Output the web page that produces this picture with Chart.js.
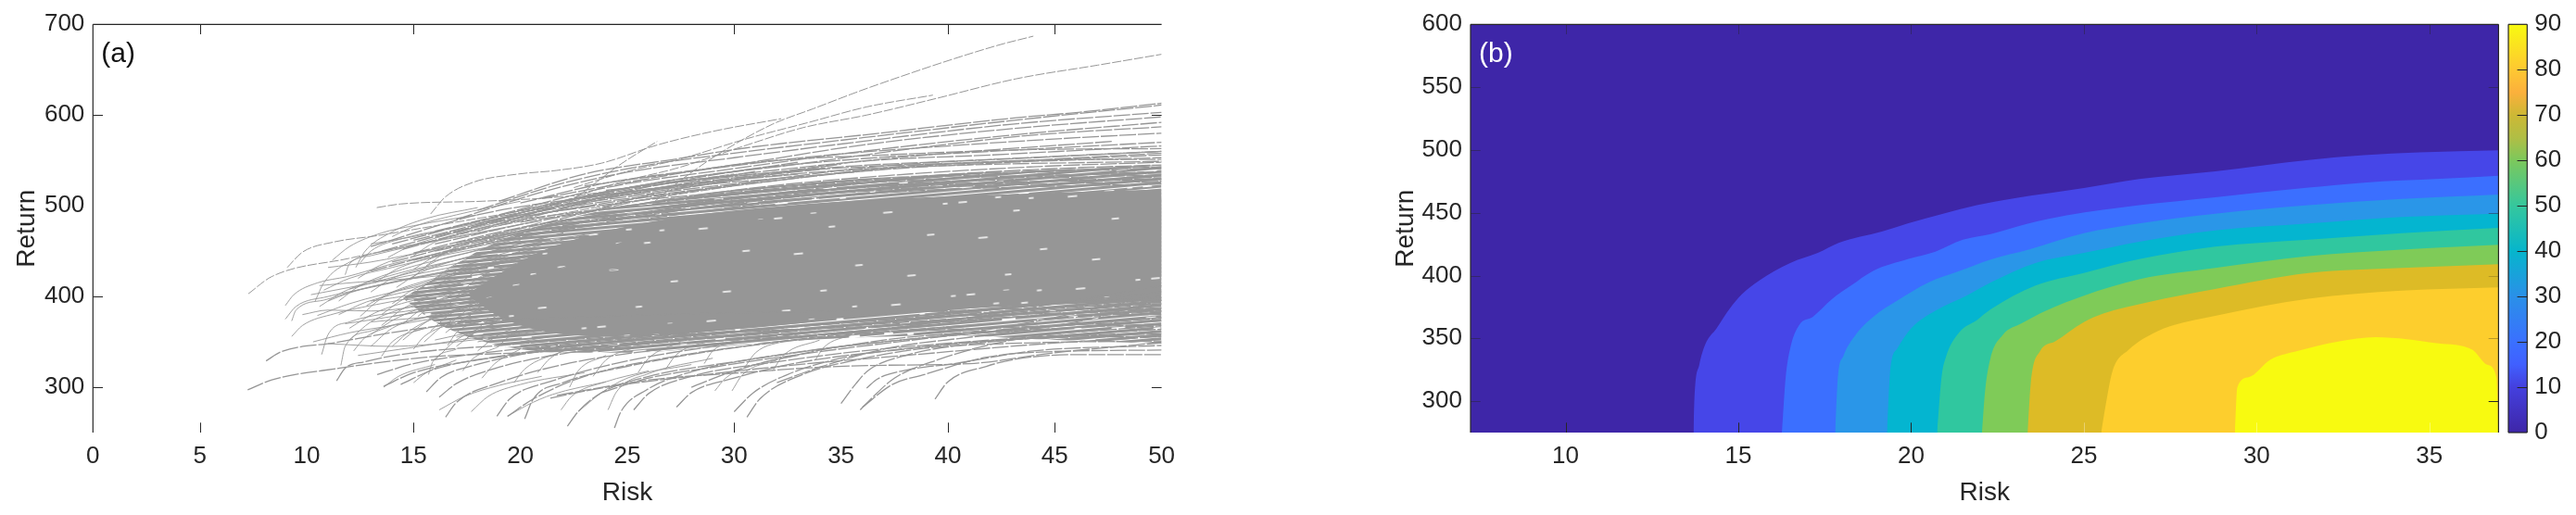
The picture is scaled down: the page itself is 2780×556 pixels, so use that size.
<!DOCTYPE html>
<html><head><meta charset="utf-8">
<script src="https://cdn.jsdelivr.net/npm/chart.js@4/dist/chart.umd.min.js"></script>
<style>
html,body{margin:0;padding:0;background:#fff;width:2780px;height:556px;overflow:hidden}
canvas{position:absolute;top:0}
#ca{left:0}#cb{left:1400px}#cc{left:2700px}
</style></head><body>
<canvas id="ca" width="1400" height="556" style="width:1400px;height:556px"></canvas>
<canvas id="cb" width="1300" height="556" style="width:1300px;height:556px"></canvas>
<canvas id="cc" width="80" height="556" style="width:80px;height:556px"></canvas>
<script>
// ---------- Panel (a): efficient-frontier curves, [risk,return, risk,return, ...]
const outlierCurves=[
[26.3,505,27,519,29.2,556,31.8,590,33.7,607,36.4,631,42.2,676,44,687],
[22,505,24.5,525,27.4,542,30.6,567,33.2,586,36.2,600,39.4,618,43.2,640,47,655,50,667],
[15.8,491,16.5,510,17.8,526,19.9,535,21.7,539,23.8,547,26.4,567,29,582,32.2,596],
[21.7,493,23.5,525,24.7,546,26.4,571],
[22.5,520,25,538,27.4,551,30.6,574,33.5,592,36.2,609,39.3,622],
[7.27,403,8.37,422,11.98,442,15.6,460,19,478,24,500,30,522],
[9.09,432,9.81,449,11.26,460,13.28,467,17,482,21,498,27,520],
[13.28,498,14.4,502,18.2,505,22,510,26,522,30,535]
];
const upperCurves=[
[19,505,23,535,27.4,552,30.6,564,36.4,579,43.2,597,46.1,603,50,613],
[18,495,22,525,26,545,30,558,36,575,43,594,50,611],
[17,485,21,515,25,537,30,553,36,571,43,590,50,603],
[20,503,24,525,30,545,36,567,43,585,50,598],
[19,490,24,520,30,541,36,560,43,578,50,592],
[22,505,27,528,33,546,39,565,44,578,50,587],
[16,472,21,500,27,525,33,542,39,556,47.7,571],
[18,480,24,515,30,538,36,552,42,560,50,570],
[13,455,18,490,24,512,30,530,36,549,42,556,50,566],
[14,458,19,488,25,510,31,527,37,544,44,553,50,560],
[15,462,20,490,26,511,32,528,38,544,44,550,50,556],
[13.5,450,18,478,24,503,30,522,36,538,43,548,50,553],
[14.5,452,19,480,25,500,31,520,37,533,44,543,50,548],
[16,458,21,484,27,506,33,520,39,533,45,541,50,545],
[15,448,20,476,26,497,32,514,38,529,44,537,50,541],
[17,459,22,484,28,502,34,517,40,527,45,533,50,538],
[14,438,19,468,25,490,31,508,37,522,44,530,50,534],
[16,450,21,474,27,494,33,510,39,522,45,527,50,530],
[13,428,18,458,24,482,30,503,36,517,43,523,50,527],
[15,440,20,466,26,486,32,504,38,516,44,521,50,524],
[21,492,26,507,31,517,37,530,44,538,50,543],
[23,510,28,522,34,534,40,546,46,551,50,551],
[24,517,29,530,35,543,41,550,50,560],
[20,482,25,500,30,512,36,525,42,532,50,536],
[22,478,27,497,33,511,39,520,44,526,50,532],
[18,462,23,487,29,505,35,519,41,525,50,529],
[19,478,24,508,29,526,35,539,41,545,50,549],
[21,508,26,530,31,548,37,556,44,562,50,563],
[23,522,28,538,34,555,40,566,46,575,50,580],
[20,495,25,520,30,533,36,543,42,548,50,558],
[17,470,20,492,24,512,28,524,33,535],
[18,472,21,495,25,514,29,528,34,540],
[16,465,19,484,23,505,27,518,31,532],
[20,488,23,506,27,522,31,538],
[22,498,25,516,29,534,33,548],
[21,480,24,498,28,516,32,530],
[23,492,26,512,30,528,35,546]
];
const lowerCurves=[
[39.4,287,40,306,41.8,323,43.2,331,46,336,50,336],
[36,278,37.4,303,38.9,314,41.8,333,44.6,339,50,341],
[36.2,299,36.7,309,38.1,319,40.3,326,44,340,50,346],
[21.7,291,26,308,30.3,316,34,322,36.4,324,41,326,45,338,50,349],
[30.6,267,31.2,287,33.2,314,35.7,330,39,343,44,349,50,351],
[30,273,30.9,294,32.5,314,35,332,39,345,44,354,50,356],
[35,282,35.7,304,36.3,319,38,335,42,350,50,361],
[35.9,275,36.4,287,37.5,310,39.5,330,43,352,50,368],
[7.24,297,8.37,308,11.55,321,15.6,333,20,338,25,344,30,352,36,360,43,366,50,373],
[8.1,329,8.8,339,11.3,349,14.2,361,18,372,24,378,30,382,38,384,44,381,50,380],
[11.4,307,11.8,321,12.7,328,15,338,19,346,24,355,30,361,37,368,44,379,50,387],
[13.3,314,15,326,18,337,22,347,27,357,33,364,40,375,50,392],
[15.6,295,16.3,311,17.8,324,21,340,26,353,32,365,39,378,45,392,50,399],
[16.2,289,17,304,19,322,22,337,27,350,33,362,40,380,50,405],
[16.5,267,17,283,19,305,22,325,26,340,32,354,39,370,45,392,50,412],
[19.4,268,20.6,287,23,312,27,333,31,347,37,364,43,382,50,396],
[20.2,265,20.6,287,22,305,25,323,29,340,35,357,42,370,50,384],
[22.2,257,22.7,273,23.8,294,26,312,30,328,35,345,42,361,50,377],
[24.4,255,24.7,273,25.9,297,28,317,32,335,37,350,43,362,50,370],
[25.3,275,26,293,28,312,32,328,36,340,42,352,50,364],
[27.3,278,28,294,30,310,33,327,38,342,44,354,50,359],
[21.4,288,24,300,28,312,33,325,38,335,44,347,50,356],
[13.6,301,15,316,18,330,22,342,27,353,33,367,40,378,50,384],
[14.4,303,16,320,19,334,24,350,30,365,37,381,44,387,50,392],
[18.9,268,19.5,287,21.5,307,25,329,29,345,34,361,40,372,50,388],
[23.8,294,26,310,29,322,33,336,38,351,44,366,50,376],
[28,300,30,318,33,336,37,352,42,364,50,402],
[32,305,34,322,37,342,42,358,46,372,50,396]
];
const hookCurves=[
[22.7,273,23.8,294,25,310,28,325],[24.1,275,24.5,295,26,315,29,332],[29.1,296,29.6,310,31,325,33,335],
[29.9,296,30.4,314,32,330],[21.9,275,22.4,290,24,306,26,318],[15.7,314,15.9,328,17,342],[16.2,275,17.4,290,19,302,21,312],
[17.7,273,18.5,290,20,303,23,316],[19.4,268,20.3,280,21.5,292,24,306],[13.6,300,14.3,312,16,325],[15,305,15.6,316,17,330],
[17.3,318,17.7,330,19,345],[18.2,310,18.8,326,20,342],[19.7,305,20.2,320,22,340],[20.8,316,21.4,332,23,348],[22.3,300,22.7,318,24,335],
[23.4,312,24,330,25.5,345],[25.5,316,26,332,27.5,350],[26.8,320,27.3,336,29,352],[28.6,326,29,340,30.5,354],[30.5,322,31,338,32.5,352],
[31.8,318,32.3,335,34,352],[33.8,330,34.2,344,35.5,358],[12.2,340,12.7,354,14,368],[13.5,334,14,350,15.5,365],[15,342,15.5,356,17,372],[16.6,346,17,360,18.5,376]
];
const midCurves=[
[9,390,9.4,402,10.5,415,11.9,422,14,436,17,452,20,470],
[10.3,350,12,360,14,368,17,380,21,395],
[9.3,356,9.8,368,11.3,381,13,390,16,403,20,420],
[9,375,9.5,389,11,400,13,410,16,425,20,442],
[9.3,373,9.5,385,10.8,396,12.5,408,15,420,19,436],
[10.4,395,10.8,415,12.1,439,14,452,17,466,21,484],
[10.6,389,11.7,405,14.2,425,17,440,21,460],
[11.8,424,12,436,13,445,15,456,19,474],
[12.3,432,12.7,449,13.9,470,15.6,486,18,498],
[10.5,379,12,392,15,410,18,424,22,445],
[11.6,324,11.8,345,13,362,15,374,18,388,22,405],
[13,345,14,365,16,380,19,395,23,415],
[12,352,13,372,15,390,18,405,22,425],
[10.7,336,11,358,12,372,15,385,19,400],
[12.5,378,13.5,398,15.5,415,18,430,21,448],
[11.5,395,12.5,412,14.5,430,17,445,20,462],
[10.8,407,12,420,14,432,16.5,446,20,460],
[13,405,14,420,16,434,19,452,22,470],
[14,392,15,408,17,424,19.5,440,23,458],
[14.5,370,15.5,388,17.5,404,20,420,23,438],
[14,345,15,365,17,384,19.5,400,23,418],
[15.5,350,16.5,370,18,385,20.5,402,23,412],
[16,330,17,352,19,372,22,390],
[17,345,18,362,20,378,23,394],
[18,340,19,358,21,372],
[12.5,437,13,450,14.5,464,17,476,20,490],
[11.2,440,12,455,13.5,470,15,478,18,490],
[14,466,15,477,17,490,20,505],
[15,445,16,460,18,474,20,486,23,500],
[16,420,17,436,19,452,22,470],
[17,400,18,420,20,438,23,456],
[9.8,380,11,385,13,384,16,392,20,405],
[10.6,412,12.5,416,15,420,18,428,22,440],
[13,372,15,376,18,382,22,392],
[11,348,14,345,17,350,21,362],
[12.4,335,15,344,18,355,22,365],
[18,350,20,360,23,368],[20,350,22,358,25,364],[17,355,19,366,22,372],
[11,395,12,404,14,416,17,430,21,448],
[11.5,380,12.8,394,15,407,18,420,22,436],
[12,365,13.2,382,15.2,397,18,412,22,428],
[13,358,14.2,376,16,392,19,408,23,426],
[12.8,390,14,405,16,420,19,436,23,452],
[13.5,380,14.6,398,16.6,412,19.5,428,23,445],
[14.2,410,15.2,425,17,440,20,456,24,472],
[13.2,415,14.2,430,16,444,19,460,23,478],
[14.8,400,15.8,416,18,432,21,450,25,468],
[15.2,378,16.2,396,18.2,412,21,430,25,448],
[15.8,362,16.8,382,18.5,398,21,415,25,432],
[16.4,388,17.4,404,19.2,420,22,438],
[16.8,372,17.8,390,19.6,406,22,422],
[17.4,352,18.4,372,20.2,390,23,406],
[15,430,16,444,18,458,21,476,24,492],
[13.8,443,14.8,455,16.6,468,19,482,22,496],
[16,408,17,428,19,446,22,464],
[12,408,13.5,418,16,432,19,444,23,462],
[13,395,15,402,18,416,21,428],
[14,378,16,386,19,400,22,414],
[15,362,17,372,20,386,23,398],
[16,352,18,362,21,374,24,384],
[11.8,370,14,378,17,392,20,408],
[10.2,402,12,410,15,424,18,438,21,454],
[11,432,13,438,16,452,19,466,22,480],
[13,458,15,466,18,482,21,494],
[17,412,18.2,432,20,450,23,468],
[18,390,19,410,21,430,24,450],
[18.6,368,19.6,386,21.5,404,24,424],
[19,346,20,366,22,384,25,400],
[14.5,352,15.6,372,17.5,390,20,406],
[13.5,368,14.6,388,16.5,402,19,416],
[12.4,420,13.4,434,15.2,448,18,462,21,476],
[15.6,434,16.6,450,18.6,466,21,482],
[14.8,418,15.8,436,17.8,450,20.5,468],
[16.5,360,17.5,378,19.5,394,22,410],
[17.6,378,18.6,398,20.5,416,23,434]
];
// envelopes of the three densities of the curve mass
const outerUpper=[14.5,398,16,420,18,450,20,470,22,485,25,500,28,512,32,522,36,530,40,535,45,540,50,545];
const outerLower=[14.5,398,16,372,18,352,20,342,22,338,25,338,28,342,32,350,36,355,40,357,45,352,50,348];
const midUpper=[17.5,402,19,425,21,450,24,472,27,486,31,497,36,506,42,512,50,518];
const midLower=[17.5,402,19,378,21,362,24,356,28,360,32,368,36,378,42,388,50,395];
const coreUpper=[20,410,22,435,25,462,28,476,32,487,36,496,40,500,45,505,50,508];
const coreLower=[20,410,22,382,25,370,28,372,32,380,36,392,40,402,45,412,50,422];
// ---------- Panel (b): contour boundaries, [risk,return, ...]
const level0=[7.25,600,37,600];
const level1=[13.7,275,13.73,303,13.87,329,14.04,345,14.37,358,14.76,374,15.1,385,15.6,396,16.5,410,17.3,418,17.9,426,19.15,435,19.9,441.5,20.9,449,21.9,456,23,461.6,25,469.7,26.6,476.8,28.8,483,31.5,492,33.1,495.8,34.7,498,37,499.7];
const level2=[16.26,275,16.37,319,16.5,342,16.76,360.6,17.15,367,17.7,381,18.26,392,18.9,403.7,19.9,413,20.7,419,21.5,428.5,22.3,433,23.4,441.5,24.5,448,26.6,456,28.8,462.4,31.5,470,33.1,474,35.3,477,37,479.4];
const level3=[17.8,275,17.88,319,18.04,336,18.4,353,18.9,367,19.6,380,20.5,394.5,21.4,403.7,22.3,412.8,23.4,420.6,25,433.7,26.6,441.5,28.8,449.3,31.5,456,34.2,461,37,464.5];
const level4=[19.3,275,19.4,326,19.6,342,20,358,20.7,372,21.6,384,22.3,394.5,23.6,410,25,418,26.6,427,28.8,436,31.5,441.5,34.2,446.7,37,449.3];
const level5=[20.75,275,20.88,319,21,334.5,21.4,355,21.9,364.5,22.3,373,23.6,392,25,402,26.6,413,28.8,423,31.5,428.5,34.2,433.7,37,438];
const level6=[22.05,275,22.14,308,22.3,334.5,22.65,352.7,23.2,362,23.9,372,25,384,26.6,397,28.8,406,31.5,415.4,34.2,420.6,37,424.5];
const level7=[23.37,275,23.46,313.6,23.73,339.7,24.16,347.5,25,363,25.56,369.7,26.86,378.8,28.8,389.3,31.5,402,34.2,406,37,409];
const level8=[25.5,275,25.67,303,25.83,324,26.3,341,27,354,27.6,360.6,28.8,368,31.5,381.5,34.2,388,37,390.6];
const level9=[29.37,275,29.44,311,29.77,319,30.4,333,31.2,340,32.36,347.5,33.44,351,35.27,346,36.24,341,36.67,329,36.94,319,37,275];
const levelColors=['#3E26A8','#4646E8','#3B6FFF','#2A96E8','#04B5D0','#30C79F','#7FCB58','#DDBB26','#FDCE2D','#F8FA10'];
// ---------- Colour bar
const barValues=[0,90];
const barStops=[[0,'#3E26A8'],[10,'#4440DE'],[15,'#4060FF'],[20,'#3A70FF'],[30,'#2A90E8'],[40,'#06B5CC'],[50,'#35C79D'],[60,'#7CC85C'],[65,'#B0BE45'],[70,'#CDB835'],[75,'#FBB03C'],[80,'#FEC832'],[90,'#F8FA10']];
// ---------- Tick values
const aXTicks=[0,5,10,15,20,25,30,35,40,45,50];
const aYTicks=[300,400,500,600,700];
const bXTicks=[10,15,20,25,30,35];
const bYTicks=[300,350,400,450,500,550,600];
const barTicks=[0,10,20,30,40,50,60,70,80,90];
const INK='#262626';
const FAINT='rgba(38,38,38,.45)';
const aMarks={top:[[5,INK],[15,INK],[30,INK],[40,INK],[45,INK]],bottom:[[5,INK],[15,INK],[30,INK],[40,INK],[45,INK]],left:[[300,INK],[400,INK],[600,INK]],right:[[300,INK],[600,INK]]};
const bMarks={top:bXTicks.map(v=>[v,FAINT]),bottom:bXTicks.map(v=>[v,v<25?INK:'rgba(255,255,255,.35)']),left:bYTicks.map(v=>[v,FAINT]),right:[[300,INK],[350,'rgba(120,100,30,.5)'],[400,'rgba(120,100,30,.4)'],[450,FAINT],[550,FAINT]]};
// texture of white gaps between the curves, inside a tile: [x,y,length]
const gapTexture=[[12,8,8],[70,22,6],[130,12,9],[175,40,7],[30,48,9],[95,66,7],[150,82,8],[55,90,6],
[40,20,5],[100,34,5],[160,24,4],[10,62,6],[72,50,5],[125,55,6],[190,70,5],[28,78,5],[85,92,5],[118,88,4],
[5,35,4],[52,6,5],[88,10,4],[145,45,5],[195,8,4],[60,70,4],
[22,28,11],[48,38,13],[82,42,10],[112,20,14],[138,32,9],[165,58,13],[185,88,10],[15,92,12],[42,62,10],[68,80,13],[108,76,11],[135,68,10],[170,10,9],[78,4,9],[3,50,9],[120,42,8]];

const pts=f=>{const o=[];for(let i=0;i<f.length;i+=2)o.push({x:f[i],y:f[i+1]});return o;};
const FONT='"Liberation Sans", Arial, sans-serif';
const GRAY='#969696';
function texture(n,w,striped){
  const t=document.createElement('canvas');t.width=200;t.height=100;const g=t.getContext('2d');
  g.fillStyle=striped?'#fff':GRAY;g.fillRect(0,0,200,100);
  if(striped){g.fillStyle=GRAY;for(let y=0;y<100;y+=4)g.fillRect(0,y,200,3);}
  g.strokeStyle='#fff';g.lineWidth=w;g.lineCap='round';
  gapTexture.slice(0,n).forEach(([x,y,l])=>{g.beginPath();g.moveTo(x,y);g.lineTo(x+l,y);g.stroke();});
  const p=document.getElementById('ca').getContext('2d').createPattern(t,'repeat');
  p.setTransform(new DOMMatrix().rotate(-5));
  return p;
}
const axisPlugin={id:'frame',afterDatasetsDraw(c,_a,o){
  const {ctx,chartArea:A,scales:S}=c;ctx.save();ctx.lineWidth=1;
  const L=10.7;
  (o.marks.top||[]).forEach(([v,k])=>{const x=Math.round(S.x.getPixelForValue(v))+.5;ctx.strokeStyle=k;ctx.beginPath();ctx.moveTo(x,A.top);ctx.lineTo(x,A.top+L);ctx.stroke();});
  (o.marks.bottom||[]).forEach(([v,k])=>{const x=Math.round(S.x.getPixelForValue(v))+.5;ctx.strokeStyle=k;ctx.beginPath();ctx.moveTo(x,A.bottom);ctx.lineTo(x,A.bottom-L);ctx.stroke();});
  (o.marks.left||[]).forEach(([v,k])=>{const y=Math.round(S.y.getPixelForValue(v))+.5;ctx.strokeStyle=k;ctx.beginPath();ctx.moveTo(A.left,y);ctx.lineTo(A.left+L,y);ctx.stroke();});
  (o.marks.right||[]).forEach(([v,k])=>{const y=Math.round(S.y.getPixelForValue(v))+.5;ctx.strokeStyle=k;ctx.beginPath();ctx.moveTo(A.right,y);ctx.lineTo(A.right-L,y);ctx.stroke();});
  ctx.strokeStyle=INK;ctx.lineWidth=1.2;
  (o.edges||[]).forEach(e=>{ctx.beginPath();
    if(e==='top'){ctx.moveTo(A.left,A.top);ctx.lineTo(A.right,A.top);}
    if(e==='left'){ctx.moveTo(A.left,A.top);ctx.lineTo(A.left,A.bottom);}
    if(e==='right'){ctx.moveTo(A.right,A.top);ctx.lineTo(A.right,A.bottom);}
    if(e==='bottom'){ctx.moveTo(A.left,A.bottom);ctx.lineTo(A.right,A.bottom);}
    ctx.stroke();});
  if(o.label){ctx.font='30px '+FONT;ctx.fillStyle=o.label.color;ctx.textBaseline='middle';ctx.fillText(o.label.text,A.left+o.label.dx,A.top+o.label.dy);}
  ctx.restore();
}};
function scales(xmin,xmax,ymin,ymax,xt,yt,wY,hX,titleInset){
  return {
   x:{type:'linear',min:xmin,max:xmax,afterBuildTicks:s=>{s.ticks=xt.map(v=>({value:v}));},afterFit:s=>{s.height=hX;},
      grid:{display:false,drawTicks:false},border:{display:false},
      ticks:{color:INK,font:{family:FONT,size:26},maxRotation:0,padding:10,autoSkip:false},
      title:{display:true,text:'Risk',color:INK,font:{family:FONT,size:28},padding:{top:0,bottom:7}}},
   y:{type:'linear',min:ymin,max:ymax,afterBuildTicks:s=>{s.ticks=yt.map(v=>({value:v}));},afterFit:s=>{s.width=wY;},
      grid:{display:false,drawTicks:false},border:{display:false},
      ticks:{color:INK,font:{family:FONT,size:26},padding:9,autoSkip:false},
      title:{display:true,text:'Return',color:INK,font:{family:FONT,size:28},padding:{top:titleInset,bottom:0}}}
  };
}
const line=(f,w,col,ord,dash)=>({data:pts(f),borderColor:col,borderWidth:w,pointRadius:0,showLine:true,fill:false,order:ord,cubicInterpolationMode:'monotone',borderDash:dash||[]});
const band=(u,l,bg,ord)=>[
 {data:pts(u),borderWidth:0,pointRadius:0,showLine:true,backgroundColor:bg,fill:'+1',order:ord,cubicInterpolationMode:'monotone'},
 {data:pts(l),borderWidth:0,pointRadius:0,showLine:true,fill:false,order:ord,cubicInterpolationMode:'monotone'}];
const aSets=[...band(outerUpper,outerLower,texture(40,2,true),9),...band(midUpper,midLower,texture(24,1.6,false),8),...band(coreUpper,coreLower,texture(8,1.3,false),7)];
outlierCurves.forEach(f=>aSets.push(line(f,1,GRAY,2,[10,2])));
upperCurves.forEach(f=>aSets.push(line(f,1.3,GRAY,2,[18,2])));
lowerCurves.forEach(f=>aSets.push(line(f,1.3,GRAY,2,[18,2])));
midCurves.forEach(f=>aSets.push(line(f,.9,GRAY,2)));
hookCurves.forEach(f=>aSets.push(line(f,.9,GRAY,2)));
new Chart(document.getElementById('ca'),{type:'scatter',plugins:[axisPlugin],data:{datasets:aSets},options:{
  responsive:false,animation:false,events:[],
  layout:{padding:{top:26.3,right:1400-1253.6,left:0,bottom:0}},
  plugins:{legend:{display:false},tooltip:{enabled:false},frame:{marks:aMarks,edges:['top','left'],label:{text:'(a)',color:'#111',dx:9,dy:32}}},
  scales:scales(0,50,250,700,aXTicks,aYTicks,100.3,89,12)}});

const levels=[level0,level1,level2,level3,level4,level5,level6,level7,level8,level9];
const bSets=levels.map((f,i)=>({data:pts(f),borderWidth:0,pointRadius:0,showLine:true,backgroundColor:levelColors[i],fill:{value:275},order:20-i,cubicInterpolationMode:'monotone'}));
new Chart(document.getElementById('cb'),{type:'scatter',plugins:[axisPlugin],data:{datasets:bSets},options:{
  responsive:false,animation:false,events:[],
  layout:{padding:{top:26.3,right:1300-1296.4,left:0,bottom:0}},
  plugins:{legend:{display:false},tooltip:{enabled:false},frame:{marks:bMarks,edges:['top','left','right'],label:{text:'(b)',color:'#fff',dx:9,dy:32}}},
  scales:scales(7.25,37,275,600,bXTicks,bYTicks,187,89,100)}});

new Chart(document.getElementById('cc'),{type:'bar',plugins:[axisPlugin],
 data:{labels:[''],datasets:[{data:[barValues],barPercentage:1,categoryPercentage:1,borderWidth:0,
   backgroundColor:c=>{const {ctx,chartArea:A}=c.chart;if(!A)return '#888';const g=ctx.createLinearGradient(0,A.bottom,0,A.top);barStops.forEach(([v,k])=>g.addColorStop((v-barValues[0])/(barValues[1]-barValues[0]),k));return g;}}]},
 options:{responsive:false,animation:false,events:[],
  layout:{padding:{top:26.3,left:7,right:0,bottom:0}},
  plugins:{legend:{display:false},tooltip:{enabled:false},frame:{marks:{right:barTicks.filter(v=>v>0&&v<90).map(v=>[v,INK])},edges:['top','left','right','bottom']}},
  scales:{
   x:{display:true,afterFit:s=>{s.height=89;},grid:{display:false,drawTicks:false},border:{display:false},ticks:{display:false}},
   y:{position:'right',min:0,max:90,afterBuildTicks:s=>{s.ticks=barTicks.map(v=>({value:v}));},afterFit:s=>{s.width=52.7;},
      grid:{display:false,drawTicks:false},border:{display:false},ticks:{color:INK,font:{family:FONT,size:26},padding:8,autoSkip:false}}
  }}});
</script>
</body></html>
